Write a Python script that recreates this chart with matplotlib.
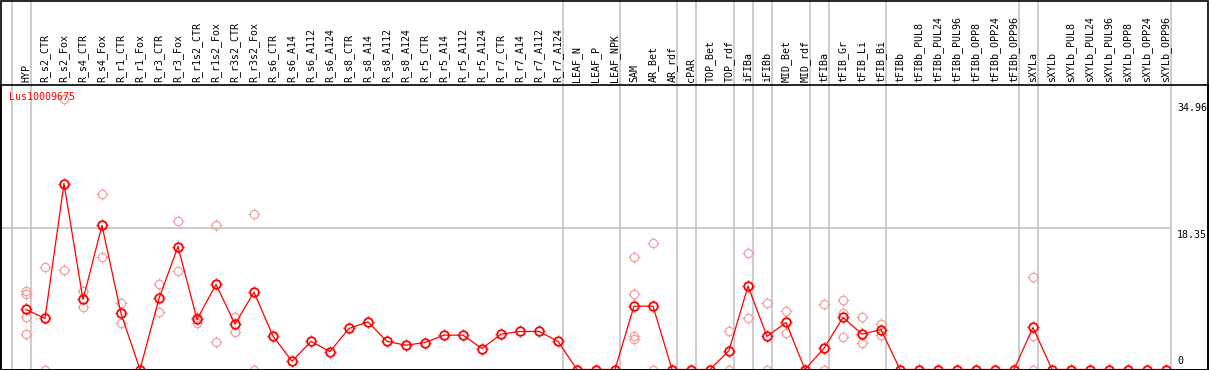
import numpy as np
import matplotlib
matplotlib.use("Agg")
import matplotlib.pyplot as plt
from matplotlib.path import Path
import matplotlib.transforms as mtransforms

# categories (samples)
labels = ["HYP", "R_s2_CTR", "R_s2_Fox", "R_s4_CTR", "R_s4_Fox", "R_r1_CTR", "R_r1_Fox",
          "R_r3_CTR", "R_r3_Fox", "R_r1s2_CTR", "R_r1s2_Fox", "R_r3s2_CTR", "R_r3s2_Fox",
          "R_s6_CTR", "R_s6_A14", "R_s6_A112", "R_s6_A124", "R_s8_CTR", "R_s8_A14",
          "R_s8_A112", "R_s8_A124", "R_r5_CTR", "R_r5_A14", "R_r5_A112", "R_r5_A124",
          "R_r7_CTR", "R_r7_A14", "R_r7_A112", "R_r7_A124", "LEAF_N", "LEAF_P", "LEAF_NPK",
          "SAM", "AR_Bet", "AR_rdf", "cPAR", "TOP_Bet", "TOP_rdf", "iFIBa", "iFIBb",
          "MID_Bet", "MID_rdf", "tFIBa", "tFIB_Gr", "tFIB_Li", "tFIB_Bi", "tFIBb",
          "tFIBb_PUL8", "tFIBb_PUL24", "tFIBb_PUL96", "tFIBb_OPP8", "tFIBb_OPP24",
          "tFIBb_OPP96", "sXYLa", "sXYLb", "sXYLb_PUL8", "sXYLb_PUL24", "sXYLb_PUL96",
          "sXYLb_OPP8", "sXYLb_OPP24", "sXYLb_OPP96"]

# mean expression per sample
means = [7.81, 6.64, 24.2, 9.11, 18.75, 7.29, 0.0, 9.24, 16.0, 6.51, 11.07, 5.9, 10.07,
         4.34, 1.08, 3.65, 2.34, 5.34, 6.2, 3.65, 3.16, 3.51, 4.47, 4.47, 2.73, 4.6, 4.95,
         4.95, 3.65, 0.0, 0.0, 0.0, 8.24, 8.24, 0.0, 0.0, 0.0, 2.47, 10.85, 4.3, 6.12, 0.0,
         2.77, 6.77, 4.6, 5.2, 0.0, 0.0, 0.0, 0.0, 0.0, 0.0, 0.0, 5.47, 0.0, 0.0, 0.0, 0.0,
         0.0, 0.0, 0.0]

# replicate values (index of sample -> values)
reps = {
    0: [10.2, 9.76, 6.77, 4.6],
    1: [13.4, 0.0],
    2: [35.2, 13.0],
    3: [10.2, 8.07],
    4: [22.8, 14.7],
    5: [8.59, 6.07],
    7: [11.07, 7.42],
    8: [19.27, 12.76],
    9: [6.85, 6.07],
    10: [18.75, 3.55],
    11: [6.85, 4.82],
    12: [20.2, 0.0],
    32: [14.7, 9.76, 4.38, 3.95],
    33: [16.4, 0.0],
    37: [4.95, 0.0],
    38: [15.1, 6.64],
    39: [8.59, 0.0],
    40: [7.55, 4.69],
    42: [8.46, 0.0],
    43: [9.02, 7.29, 4.17],
    44: [6.77, 3.51],
    45: [5.9, 4.5],
    53: [11.98, 4.38, 0.0],
}

gene = "Lus10009675"
ymax_label = 34.96
ymid_label = 18.35
group_starts = [0, 1, 29, 32, 35, 36, 38, 39, 40, 42, 43, 46, 53, 54, 61]

W, H = 1209, 370
fig = plt.figure(figsize=(W / 100, H / 100), dpi=100)
fig.patch.set_facecolor("white")

# axes pixel box (from top): x 1..1208, y 85..369.5
top_px, bot_px = 85, 369.5
ax = fig.add_axes([1 / W, (H - bot_px) / H, 1207 / W, (bot_px - top_px) / H])
step, x0 = 19, 26
ax.set_xlim((1 - x0) / step, (1208 - x0) / step)
ppu = 7.68
ax.set_ylim(0, (369.3 - top_px) / ppu)
ax.set_xticks([])
ax.set_yticks([])
for s in ax.spines.values():
    s.set_color("black")
    s.set_linewidth(1.2)

# tick marks around the circle markers
r0 = 0.78
tick_mk = Path([[0, r0], [0, 1], [0, -r0], [0, -1], [r0, 0], [1, 0], [-r0, 0], [-1, 0]],
               [Path.MOVETO, Path.LINETO] * 4)

light = "#f0a0a0"
red = "#ff0000"
gray = "#c4c4c4"

hfrac = 1 + (top_px - 0) / (bot_px - top_px)
for g in group_starts:
    ax.axvline(g - 0.763, ymin=0, ymax=hfrac, color=gray, lw=1.2, clip_on=False, zorder=1)
ax.hlines(ymid_label, ax.get_xlim()[0], 61 - 0.763, color=gray, lw=1.2, zorder=1)

x = np.arange(len(labels))
for i, vals in reps.items():
    xs = [i] * len(vals)
    ax.plot(xs, vals, linestyle="none", marker="o", markersize=6,
            markerfacecolor="none", markeredgecolor=light, markeredgewidth=0.9, zorder=2)
    ax.plot(xs, vals, linestyle="none", marker=tick_mk, markersize=8,
            markeredgecolor=light, markeredgewidth=0.8, zorder=2)
ax.plot(x, means, color=red, lw=0.9, zorder=3)
ax.plot(x, means, linestyle="none", marker="o", markersize=6.2,
        markerfacecolor="none", markeredgecolor=red, markeredgewidth=1.3, zorder=4)
ax.plot(x, means, linestyle="none", marker=tick_mk, markersize=8.4,
        markeredgecolor=red, markeredgewidth=1.0, zorder=4)

font = dict(family="DejaVu Sans Mono", fontsize=7.2)
# header labels
lab_tr = mtransforms.offset_copy(ax.get_xaxis_transform(), fig=fig, x=0, y=2.5, units="dots")
for i, lab in enumerate(labels):
    ax.text(i, 1.0, lab, rotation=90, ha="center", va="bottom", transform=lab_tr,
            clip_on=False, **font)

# right side value labels
rx = (1177 - x0) / step
tr_dn = mtransforms.offset_copy(ax.transData, fig=fig, x=0, y=-2, units="dots")
tr_up = mtransforms.offset_copy(ax.transData, fig=fig, x=0, y=3, units="dots")
ax.text(rx, ymax_label, "%.2f" % ymax_label, ha="left", va="top", transform=tr_dn, **font)
ax.text(rx, ymid_label, "%.2f" % ymid_label, ha="left", va="top", transform=tr_dn, **font)
ax.text(rx, 0, "0", ha="left", va="bottom", transform=tr_up, **font)

ax.text(8 / 1207, 1 - 12 / (bot_px - top_px), gene, color=red, ha="left", va="center",
        transform=ax.transAxes, **font)

# outer border
fig.add_artist(plt.Rectangle((0.5 / W, 0), 1 - 1.5 / W, 1 - 0.5 / H, fill=False,
                             edgecolor="black", lw=1.2, transform=fig.transFigure))

fig.savefig("out.png", dpi=100)
